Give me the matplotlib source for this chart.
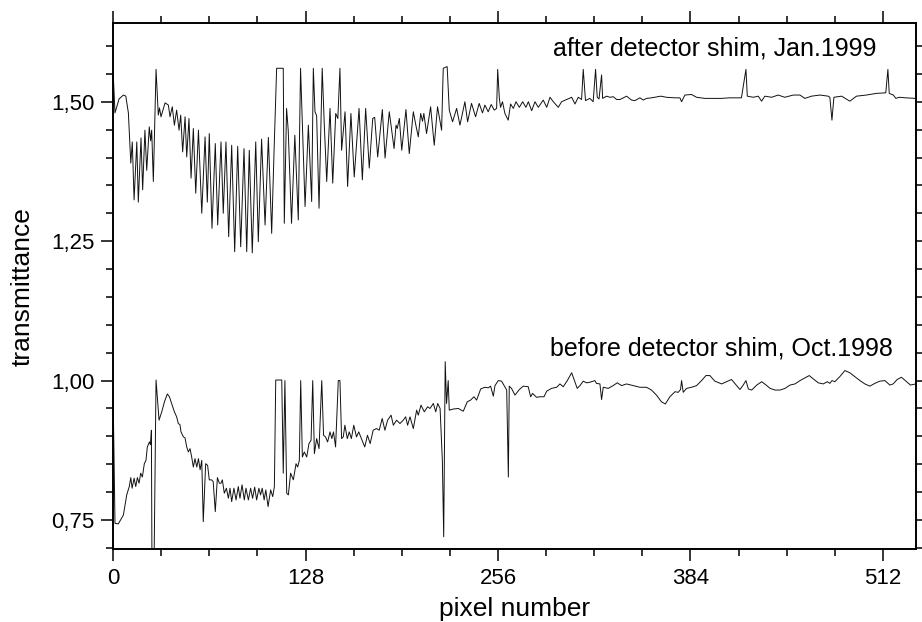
import matplotlib
matplotlib.use("Agg")
import matplotlib.pyplot as plt
from matplotlib.ticker import MultipleLocator, FuncFormatter

plt.rcParams['font.family'] = ['Liberation Sans', 'DejaVu Sans']

# after detector shim, Jan.1999 (vertices)
after_x = [0, 1.3, 4, 6.9, 8.5, 10.2, 11.8, 12.8, 14.0, 15.8, 16.8, 18.6, 19.7, 21.2, 22.4, 24.1, 25.0, 25.7,
           26.8, 28.6, 30.1, 30.9, 31.9, 34.6, 36.8, 37.9, 39.4, 40.8, 42.3, 43.9, 45.0, 46.3, 47.9, 49.0,
           50.5, 51.9, 53.4, 55.0, 56.8, 59.0, 61.2, 62.7, 64.0, 65.8, 68.0, 69.6, 71.8, 73.3, 75.1, 76.9,
           78.9, 80.9, 82.9, 84.9, 87.1, 88.9, 90.6, 92.6, 94.9, 96.6, 98.8, 101.1, 103.3, 105.5, 107.1,
           108.8, 113.2, 113.9, 115.4, 116.5, 118.7, 120.9, 123.2, 124.7, 127.7, 129.9, 132.1, 133.2, 134.3,
           135.4, 137.0, 139.1, 140.5, 142.1, 144.3, 146.1, 148.1, 149.5, 150.9, 152.0, 154.3, 156.0, 158.2,
           160.4, 163.6, 165.8, 168.0, 170.4, 172.7, 174.0, 176.0, 179.1, 180.9, 183.7, 186.9, 188.2, 189.0,
           190.4, 192.0, 194.8, 197.0, 199.7, 201.6, 203.0, 204.6, 205.8, 206.7, 208.5, 211.2, 213.6, 215.8,
           218.5, 219.6, 222.2, 223.6, 225.8, 228.5, 230.7, 234.0, 235.8, 238.4, 241.1, 243.5, 245.7, 247.3,
           249.5, 251.5, 253.5, 255.1, 255.8, 256.9, 257.7, 259.0, 260.6, 262.8, 264.4, 266.2, 268.0, 270.2,
           272.4, 274.6, 276.2, 278.4, 280.6, 282.8, 286.1, 288.4, 290.6, 292.8, 296.1, 298.3, 301.6, 305.0,
           307.2, 309.4, 311.6, 312.7, 314.2, 317.1, 319.3, 320.9, 322.0, 323.2, 324.9, 325.6, 328.2, 330.5,
           332.7, 334.9, 337.1, 339.4, 341.5, 344.8, 347.0, 350.4, 352.6, 354.8, 358.1, 364.3, 368.0, 373.7,
           377.0, 378.1, 380.3, 384.7, 388.0, 393.6, 399.0, 404.5, 410.0, 417.9, 420.9, 421.8, 425.8, 429.1,
           431.3, 433.5, 438.0, 442.3, 446.7, 452.4, 456.8, 460.1, 464.5, 470.1, 475.6, 476.7, 478.1, 479.4,
           484.5, 490.0, 494.4, 501.0, 507.7, 513.9, 515.3, 516.2, 518.9, 520.6, 522.8, 527.2, 533.9]
after_y = [1.557, 1.480, 1.505, 1.512, 1.510, 1.480, 1.390, 1.428, 1.324, 1.428, 1.320, 1.435, 1.342, 1.449,
           1.377, 1.455, 1.430, 1.449, 1.357, 1.558, 1.476, 1.489, 1.473, 1.498, 1.494, 1.473, 1.491, 1.458,
           1.485, 1.449, 1.476, 1.410, 1.473, 1.401, 1.470, 1.363, 1.452, 1.336, 1.449, 1.300, 1.437, 1.320,
           1.443, 1.273, 1.425, 1.279, 1.428, 1.300, 1.428, 1.258, 1.422, 1.231, 1.420, 1.240, 1.416, 1.231,
           1.413, 1.229, 1.428, 1.249, 1.433, 1.279, 1.436, 1.264, 1.413, 1.560, 1.560, 1.282, 1.488, 1.449,
           1.282, 1.440, 1.288, 1.560, 1.312, 1.458, 1.321, 1.560, 1.482, 1.475, 1.309, 1.560, 1.458, 1.357,
           1.488, 1.354, 1.479, 1.470, 1.560, 1.413, 1.482, 1.348, 1.479, 1.365, 1.488, 1.360, 1.488, 1.381,
           1.470, 1.472, 1.401, 1.486, 1.399, 1.482, 1.416, 1.458, 1.452, 1.470, 1.413, 1.486, 1.407, 1.482,
           1.455, 1.437, 1.479, 1.465, 1.479, 1.443, 1.491, 1.422, 1.491, 1.449, 1.560, 1.563, 1.485, 1.464,
           1.488, 1.458, 1.500, 1.464, 1.497, 1.473, 1.497, 1.480, 1.494, 1.482, 1.495, 1.485, 1.488, 1.558,
           1.506, 1.490, 1.500, 1.479, 1.467, 1.496, 1.488, 1.500, 1.490, 1.500, 1.490, 1.500, 1.484, 1.500,
           1.490, 1.503, 1.490, 1.508, 1.500, 1.490, 1.500, 1.504, 1.508, 1.496, 1.508, 1.504, 1.558, 1.502,
           1.506, 1.500, 1.558, 1.508, 1.505, 1.548, 1.506, 1.510, 1.508, 1.509, 1.504, 1.504, 1.507, 1.510,
           1.503, 1.502, 1.507, 1.503, 1.506, 1.507, 1.510, 1.508, 1.507, 1.507, 1.500, 1.512, 1.513, 1.508,
           1.506, 1.506, 1.506, 1.507, 1.507, 1.558, 1.510, 1.508, 1.510, 1.501, 1.510, 1.508, 1.512, 1.508,
           1.512, 1.512, 1.506, 1.510, 1.512, 1.510, 1.508, 1.467, 1.508, 1.510, 1.501, 1.510, 1.512, 1.515,
           1.516, 1.558, 1.515, 1.512, 1.506, 1.508, 1.507, 1.506]

# before detector shim, Oct.1998
before_x = [0, 1.3, 3.5, 6.9, 9.1, 10.8, 11.8, 12.7, 14.0, 15.1, 16.2, 17.3, 18.4, 19.5, 20.8, 21.9, 22.8,
            24.2, 24.9, 25.5, 26.0, 27.0, 28.6, 30.6, 32.4, 34.2, 36.1, 37.5, 39.0, 40.8, 42.3, 43.4, 44.5,
            45.2, 46.8, 47.9, 49.0, 50.1, 51.2, 52.3, 53.4, 54.5, 55.7, 56.8, 57.9, 59.0, 60.0, 61.6, 62.9,
            64.0, 65.5, 66.6, 68.0, 69.4, 70.7, 71.8, 72.7, 74.0, 75.4, 76.7, 77.8, 78.9, 80.4, 81.8, 83.3,
            84.4, 85.8, 87.3, 88.4, 90.0, 91.5, 92.8, 94.2, 95.5, 97.0, 98.1, 99.2, 100.5, 101.6, 103.1,
            104.8, 106.2, 107.3, 108.2, 112.2, 113.2, 114.3, 115.5, 116.6, 118.1, 119.9, 121.7, 122.8, 123.9,
            124.8, 125.9, 127.2, 128.8, 130.3, 131.7, 132.8, 133.9, 135.4, 137.0, 138.8, 140.0, 141.3, 142.7,
            144.3, 145.5, 146.6, 148.0, 149.8, 150.9, 152.0, 153.1, 154.2, 155.8, 157.1, 158.5, 160.1, 161.9,
            163.4, 165.2, 167.4, 169.2, 171.0, 173.0, 175.2, 177.0, 179.0, 180.8, 182.6, 184.9, 186.4, 188.6,
            190.8, 193.0, 194.6, 195.9, 197.5, 199.7, 201.9, 203.0, 204.8, 207.0, 209.2, 210.8, 213.0, 214.6,
            215.9, 217.5, 219.0, 219.9, 220.9, 221.8, 222.9, 223.6, 226.3, 229.6, 232.9, 235.6, 237.8, 240.0,
            241.8, 244.5, 247.3, 249.6, 251.1, 252.9, 254.0, 256.2, 258.4, 261.8, 262.9, 263.5, 265.0, 267.3,
            270.2, 272.8, 276.1, 277.7, 279.0, 281.7, 284.0, 286.6, 288.4, 291.6, 295.0, 297.2, 299.4, 302.1,
            305.0, 307.2, 308.7, 310.5, 312.7, 314.9, 317.1, 320.4, 321.5, 323.8, 324.9, 326.0, 329.3, 332.6,
            335.3, 338.2, 341.5, 345.9, 350.4, 354.8, 358.1, 361.4, 364.7, 367.3, 370.3, 373.7, 375.9, 377.4,
            378.1, 379.2, 381.4, 384.7, 388.1, 391.4, 394.3, 396.9, 400.2, 404.7, 408.0, 411.3, 413.5, 416.9,
            419.1, 420.9, 422.5, 424.7, 428.1, 431.4, 434.3, 437.0, 440.3, 443.5, 446.9, 450.2, 453.5, 456.9,
            460.2, 463.0, 465.7, 469.0, 472.3, 475.0, 476.7, 478.1, 480.0, 483.3, 486.7, 490.0, 493.3, 496.7,
            500.0, 503.3, 506.6, 510.0, 513.3, 516.6, 518.8, 521.5, 524.3, 527.7, 530.3, 533.9]
before_y = [0.983, 0.744, 0.743, 0.759, 0.795, 0.810, 0.826, 0.807, 0.825, 0.810, 0.826, 0.816, 0.834, 0.827,
            0.851, 0.857, 0.881, 0.890, 0.885, 0.911, 0.600, 0.600, 1.001, 0.929, 0.944, 0.962, 0.976, 0.971,
            0.959, 0.944, 0.935, 0.923, 0.921, 0.908, 0.899, 0.897, 0.881, 0.872, 0.878, 0.863, 0.845, 0.860,
            0.845, 0.860, 0.840, 0.857, 0.747, 0.851, 0.848, 0.822, 0.822, 0.819, 0.765, 0.826, 0.816, 0.816,
            0.822, 0.798, 0.807, 0.789, 0.807, 0.783, 0.807, 0.786, 0.810, 0.789, 0.813, 0.786, 0.807, 0.786,
            0.807, 0.789, 0.809, 0.786, 0.807, 0.795, 0.807, 0.786, 0.804, 0.774, 0.804, 0.792, 0.810, 1.001,
            1.001, 0.834, 1.000, 0.798, 0.795, 0.834, 0.822, 0.851, 0.845, 0.857, 1.000, 0.863, 0.872, 0.863,
            0.887, 0.893, 1.000, 0.869, 0.896, 0.878, 1.000, 0.902, 0.899, 0.890, 0.908, 0.896, 0.908, 0.881,
            1.000, 1.000, 0.896, 0.899, 0.920, 0.896, 0.908, 0.896, 0.920, 0.899, 0.908, 0.896, 0.881, 0.902,
            0.887, 0.911, 0.914, 0.911, 0.932, 0.911, 0.929, 0.938, 0.920, 0.929, 0.923, 0.929, 0.935, 0.920,
            0.935, 0.914, 0.947, 0.938, 0.956, 0.944, 0.953, 0.950, 0.959, 0.944, 0.959, 0.950, 0.857, 0.720,
            1.034, 0.959, 1.000, 0.947, 0.949, 0.950, 0.945, 0.962, 0.965, 0.971, 0.965, 0.985, 0.988, 0.987,
            0.990, 0.972, 0.991, 1.000, 0.999, 0.983, 0.827, 0.990, 0.986, 0.974, 0.984, 0.990, 0.989, 0.971,
            0.977, 0.970, 0.971, 0.971, 0.981, 0.986, 0.988, 0.994, 0.989, 1.000, 1.014, 0.997, 0.986, 0.991,
            0.999, 0.996, 0.997, 1.000, 0.995, 0.994, 0.966, 0.988, 0.986, 0.991, 0.996, 0.991, 0.994, 0.991,
            0.988, 0.988, 0.983, 0.974, 0.962, 0.958, 0.971, 0.980, 0.979, 0.984, 1.000, 0.979, 0.986, 0.988,
            0.991, 1.000, 1.009, 1.009, 0.999, 0.994, 0.998, 1.002, 0.995, 0.984, 0.992, 1.000, 0.985, 0.983,
            0.992, 0.998, 0.992, 0.986, 0.983, 0.983, 0.986, 0.992, 0.994, 1.000, 1.005, 1.009, 1.003, 0.996,
            0.994, 0.998, 0.995, 1.000, 0.998, 1.007, 1.018, 1.014, 1.007, 1.000, 0.994, 0.990, 0.995, 0.999,
            1.000, 0.992, 0.994, 1.002, 1.006, 0.998, 0.992, 0.994]

x_ticks = [0, 128, 256, 384, 512]
y_ticks = [0.75, 1.00, 1.25, 1.50]

fig = plt.figure(figsize=(9.22, 6.22), dpi=100)
ax = fig.add_axes([0.1226, 0.1169, 0.8709, 0.8456])

ax.plot(after_x, after_y, color='#111111', lw=0.7)
ax.plot(before_x, before_y, color='#111111', lw=0.7)

ax.set_xlim(0, 534)
ax.set_ylim(0.6975, 1.6406)

ax.set_xticks(x_ticks)
ax.xaxis.set_minor_locator(MultipleLocator(32))
ax.set_yticks(y_ticks)
ax.yaxis.set_minor_locator(MultipleLocator(0.05))
ax.yaxis.set_major_formatter(FuncFormatter(lambda v, p: f'{v:.2f}'.replace('.', ',')))

ax.tick_params(which='both', direction='out', top=True, right=True, width=1.1, labelsize=16)
ax.tick_params(which='major', length=8.4, pad=5)
ax.tick_params(which='minor', length=4.8)
for s in ax.spines.values():
    s.set_linewidth(1.4)

ax.set_xlabel('pixel number', fontsize=19, labelpad=6)
ax.set_ylabel('transmittance', fontsize=19, labelpad=12)

ax.text(0.951, 0.953, 'after detector shim, Jan.1999', transform=ax.transAxes,
        ha='right', va='center', fontsize=18)
ax.text(0.971, 0.382, 'before detector shim, Oct.1998', transform=ax.transAxes,
        ha='right', va='center', fontsize=18)

fig.savefig('out.png', dpi=100)
